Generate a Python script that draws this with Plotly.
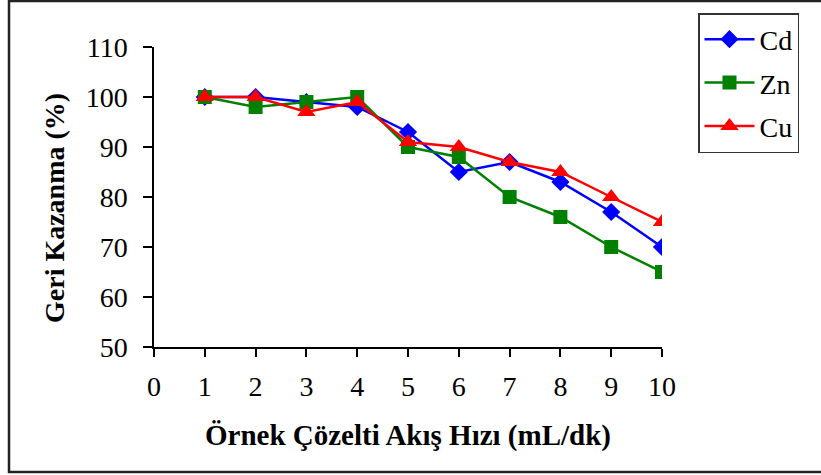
import plotly.graph_objects as go

flow = [1, 2, 3, 4, 5, 6, 7, 8, 9, 10]
cd = [100, 100, 99, 98, 93, 85, 87, 83, 77, 70]
zn = [100, 98, 99, 100, 90, 88, 80, 76, 70, 65]
cu = [100, 100, 97, 99, 91, 90, 87, 85, 80, 75]

x_ticks = list(range(0, 11))
y_ticks = list(range(50, 111, 10))

FONT = "Liberation Serif, Times New Roman, serif"

fig = go.Figure()
fig.add_trace(go.Scatter(x=flow, y=cd, name="Cd", mode="lines+markers",
                         line=dict(color="#0000FF", width=2.5),
                         marker=dict(symbol="diamond", size=14, color="#0000FF"),
                         legendgroup="a"))
fig.add_trace(go.Scatter(x=flow, y=zn, name="Zn", mode="lines+markers",
                         line=dict(color="#008000", width=2.5),
                         marker=dict(symbol="square", size=14, color="#008000"),
                         legendgroup="b"))
fig.add_trace(go.Scatter(x=flow, y=cu, name="Cu", mode="lines+markers",
                         line=dict(color="#FF0000", width=2.5),
                         marker=dict(symbol="triangle-up", size=16, color="#FF0000"),
                         legendgroup="c"))

W, H = 821, 475
L, R, T, B = 154, 159, 47, 128
pw, ph = W - L - R, H - T - B

def px_to_paper_x(px):
    return (px - L) / pw

def px_to_paper_y(py):
    return (H - B - py) / ph

fig.update_layout(
    width=W, height=H,
    margin=dict(l=L, r=R, t=T, b=B),
    paper_bgcolor="white", plot_bgcolor="white",
    font=dict(family=FONT, color="black", size=28),
    showlegend=True,
    legend=dict(
        x=px_to_paper_x(698), y=px_to_paper_y(13), xanchor="left", yanchor="top",
        bordercolor="#333333", borderwidth=1.5, bgcolor="white",
        font=dict(family=FONT, size=28, color="black"),
        tracegroupgap=4, itemwidth=50,
    ),
    xaxis=dict(
        range=[0, 10], tickmode="array", tickvals=x_ticks, ticktext=[str(v) for v in x_ticks],
        showgrid=False, zeroline=False, showline=True, linecolor="black", linewidth=1.5,
        ticks="outside", ticklen=8, tickwidth=1.5, tickcolor="black",
        tickfont=dict(family=FONT, size=28, color="black"), ticklabelstandoff=6,
    ),
    yaxis=dict(
        range=[50, 110], tickmode="array", tickvals=y_ticks, ticktext=[str(v) for v in y_ticks],
        showgrid=False, zeroline=False, showline=True, linecolor="black", linewidth=1.5,
        ticks="outside", ticklen=9, tickwidth=1.5, tickcolor="black",
        tickfont=dict(family=FONT, size=28, color="black"), ticklabelstandoff=10,
    ),
    annotations=[
        dict(text="<b>Örnek Çözelti Akış Hızı (mL/dk)</b>", xref="paper", yref="paper",
             x=px_to_paper_x(408), y=px_to_paper_y(435), xanchor="center", yanchor="middle",
             showarrow=False, font=dict(family=FONT, size=29, color="black")),
        dict(text="<b>Geri Kazanma (%)</b>", xref="paper", yref="paper",
             x=px_to_paper_x(54), y=px_to_paper_y(208), xanchor="center", yanchor="middle",
             textangle=-90, showarrow=False, font=dict(family=FONT, size=28, color="black")),
    ],
    shapes=[
        dict(type="rect", xref="paper", yref="paper",
             x0=px_to_paper_x(9), x1=px_to_paper_x(830),
             y0=px_to_paper_y(472), y1=px_to_paper_y(1),
             line=dict(color="#222222", width=2.5), fillcolor="rgba(0,0,0,0)", layer="below"),
    ],
)

fig.write_html("out.html")
